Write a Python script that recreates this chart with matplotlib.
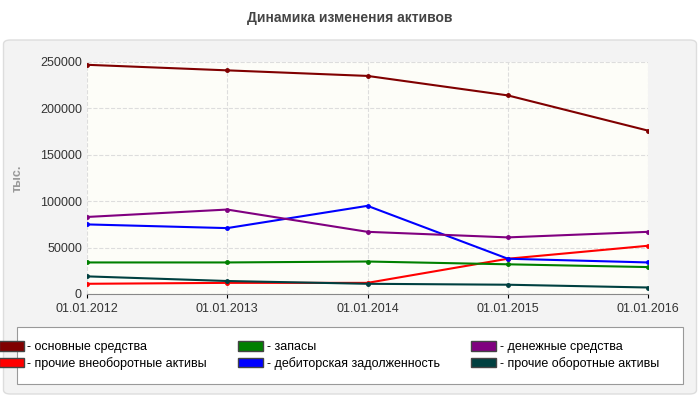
import matplotlib
matplotlib.use("Agg")
import matplotlib.pyplot as plt
from matplotlib.patches import FancyBboxPatch, Rectangle

dates = ["01.01.2012", "01.01.2013", "01.01.2014", "01.01.2015", "01.01.2016"]
fixed_assets = [247000, 241000, 235000, 214000, 176000]
other_noncurrent = [11000, 12000, 12000, 38000, 52000]
stocks = [34000, 34000, 35000, 32000, 29000]
receivables = [75000, 71000, 95000, 38000, 34000]
cash = [83000, 91000, 67000, 61000, 67000]
other_current = [19000, 14000, 11000, 10000, 7000]

series = [
    ("- основные средства", fixed_assets, "#800000"),
    ("- прочие внеоборотные активы", other_noncurrent, "#ff0000"),
    ("- запасы", stocks, "#008000"),
    ("- дебиторская задолженность", receivables, "#0000ff"),
    ("- денежные средства", cash, "#800080"),
    ("- прочие оборотные активы", other_current, "#004040"),
]

plt.rcParams["font.family"] = ["Liberation Sans", "DejaVu Sans"]
fig = plt.figure(figsize=(7, 4), dpi=100)
fig.patch.set_facecolor("white")

# light panel behind chart
fig.patches.append(FancyBboxPatch((0.005, 0.015), 0.99, 0.885, boxstyle="round,pad=0,rounding_size=0.01",
                                  transform=fig.transFigure, facecolor="#f3f3f3", edgecolor="#dddddd",
                                  lw=1, zorder=-10))
fig.text(0.5, 0.955, "Динамика изменения активов", ha="center", va="center", fontsize=10,
         fontweight="bold", color="#444444")

ax = fig.add_axes([0.124, 0.265, 0.802, 0.58])
ax.set_facecolor("#fdfdf8")
x = list(range(len(dates)))
for label, vals, col in series:
    ax.plot(x, vals, color=col, lw=1.5, marker="o", ms=2.5, label=label)

ax.set_xlim(0, 4)
ax.set_ylim(0, 250000)
ax.set_xticks(x)
ax.set_xticklabels(dates, fontsize=9, color="#333333")
ax.set_yticks(range(0, 250001, 50000))
ax.tick_params(axis="y", labelsize=9, colors="#333333", length=0)
ax.tick_params(axis="x", length=3)
ax.grid(True, ls="--", color="#dddddd", lw=0.8)
for s in ["top", "right", "left"]:
    ax.spines[s].set_visible(False)
ax.spines["bottom"].set_color("#888888")
ax.set_ylabel("тыс.", fontsize=9, color="#999999", fontweight="bold", labelpad=12)

# legend box
fig.patches.append(Rectangle((0.024, 0.04), 0.952, 0.142, transform=fig.transFigure,
                             facecolor="white", edgecolor="#999999", lw=0.8, zorder=-5))
handles = [plt.Rectangle((0, 0), 1, 1, color=c, ec="#444444") for _, _, c in series]
labels = [s[0] for s in series]
fig.legend(handles, labels, ncol=3, loc="center", bbox_to_anchor=(0.47, 0.111),
           frameon=False, fontsize=9, handlelength=2.0, handleheight=0.8,
           columnspacing=2.5, handletextpad=0.3, labelspacing=0.3)

fig.savefig("out.png", dpi=100)
